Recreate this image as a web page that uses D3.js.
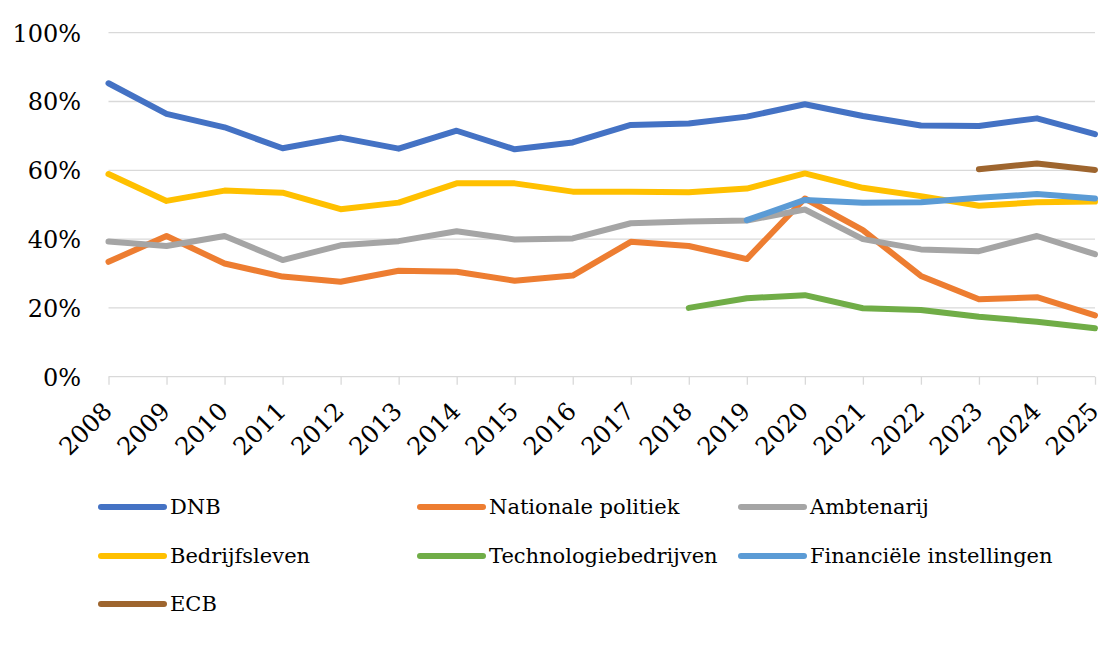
<!DOCTYPE html>
<html><head><meta charset="utf-8">
<script src="https://cdn.jsdelivr.net/npm/d3@7"></script>
<style>body{margin:0;background:#fff;}svg{display:block;}</style>
</head><body>
<svg id="chart" width="1118" height="672"></svg>
<script>
const years = [2008,2009,2010,2011,2012,2013,2014,2015,2016,2017,2018,2019,2020,2021,2022,2023,2024,2025];
const yTicks = [0,20,40,60,80,100];
const seriesNames = ["DNB","Nationale politiek","Ambtenarij","Bedrijfsleven","Technologiebedrijven","Financiële instellingen","ECB"];
const seriesColors = ["#4472C4","#ED7D31","#A5A5A5","#FFC000","#70AD47","#5B9BD5","#9E652E"];
const dnb = [85.3,76.4,72.5,66.4,69.5,66.3,71.5,66.1,68.1,73.2,73.6,75.6,79.2,75.8,73.0,72.9,75.1,70.5];
const nationalePolitiek = [33.4,40.9,32.9,29.1,27.6,30.8,30.5,27.9,29.4,39.2,38.0,34.2,51.8,42.6,29.3,22.5,23.1,17.8];
const ambtenarij = [39.3,38.0,40.9,33.9,38.2,39.4,42.3,39.9,40.2,44.6,45.1,45.4,48.6,40.0,37.0,36.5,40.9,35.6];
const bedrijfsleven = [58.9,51.1,54.1,53.5,48.7,50.6,56.2,56.2,53.8,53.8,53.6,54.7,59.1,54.9,52.5,49.7,50.7,50.9];
const technologie = [null,null,null,null,null,null,null,null,null,null,20.0,22.8,23.7,19.9,19.4,17.4,16.0,14.1];
const financieel = [null,null,null,null,null,null,null,null,null,null,null,45.5,51.4,50.6,50.7,52.0,53.1,51.8];
const ecb = [null,null,null,null,null,null,null,null,null,null,null,null,null,null,null,60.3,62.0,60.1];
const seriesValues = [dnb,nationalePolitiek,ambtenarij,bedrijfsleven,technologie,financieel,ecb];

const svg = d3.select("#chart");
const x = d3.scalePoint().domain(years).range([108.5,1095]);
const y = d3.scaleLinear().domain([0,100]).range([376.7,32.7]);
const font = "DejaVu Serif";

// gridlines
svg.append("g").selectAll("line").data(yTicks.filter(d=>d>0)).join("line")
  .attr("x1",108.5).attr("x2",1095).attr("y1",d=>y(d)).attr("y2",d=>y(d))
  .attr("stroke","#d9d9d9").attr("stroke-width",1.3);

// y axis labels
const yAxis = d3.axisLeft(y).tickValues(yTicks).tickFormat(d=>d+"%").tickSize(0).tickPadding(0);
const gy = svg.append("g").attr("transform","translate(81,0)").call(yAxis);
gy.select(".domain").remove();
gy.selectAll("text").attr("font-family",font).attr("font-size",24).attr("fill","#000").attr("dy","0.35em");

// x axis
const xAxis = d3.axisBottom(x).tickSize(8).tickPadding(0);
const gx = svg.append("g").attr("transform","translate(0,376.7)").call(xAxis);
gx.select(".domain").attr("stroke","#d9d9d9").attr("stroke-width",1.3).attr("d","M108.5,0H1095");
gx.selectAll(".tick line").attr("stroke","#d9d9d9").attr("stroke-width",1.3);
gx.selectAll("text").attr("font-family",font).attr("font-size",24.5).attr("fill","#000")
  .attr("text-anchor","end").attr("dy","0").attr("y",0)
  .attr("transform","translate(4.5,36) rotate(-45)");

// lines
const line = d3.line().defined(d=>d!=null).x((d,i)=>x(years[i])).y(d=>y(d));
svg.append("g").selectAll("path").data(seriesValues).join("path")
  .attr("d",d=>line(d)).attr("fill","none")
  .attr("stroke",(d,i)=>seriesColors[i]).attr("stroke-width",6)
  .attr("stroke-linejoin","round").attr("stroke-linecap","round");

// legend
const colX = [99,418,739];
const rowY = [507,556,604];
const lg = svg.append("g").selectAll("g").data(seriesNames).join("g")
  .attr("transform",(d,i)=>`translate(${colX[i%3]},${rowY[Math.floor(i/3)]})`);
lg.append("line").attr("x1",2).attr("x2",65).attr("y1",0).attr("y2",0)
  .attr("stroke",(d,i)=>seriesColors[i]).attr("stroke-width",6).attr("stroke-linecap","round");
lg.append("text").attr("x",71).attr("y",0).attr("dy","0.35em").text(d=>d)
  .attr("font-family",font).attr("font-size",21).attr("fill","#000");
</script>
</body></html>
